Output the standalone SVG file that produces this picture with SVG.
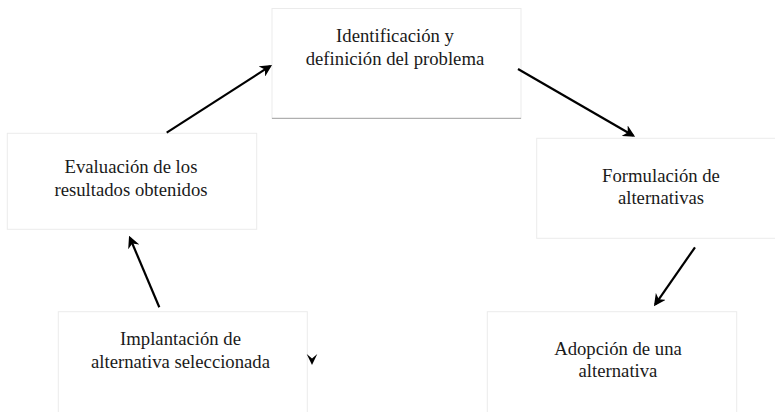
<svg xmlns="http://www.w3.org/2000/svg" width="775" height="412" viewBox="0 0 775 412">
<style>
.box{fill:#ffffff;stroke:#ebebeb;stroke-width:1}
.lbl{font-family:"Liberation Serif","Times New Roman",serif;font-size:18.7px;fill:#1a1a1a;text-anchor:middle}
.edge{stroke:#000;stroke-width:2.2;fill:none;marker-end:url(#ah)}
</style>
<defs>
<marker id="ah" viewBox="0 0 10 10" refX="8" refY="5" markerWidth="5.5" markerHeight="5.5" markerUnits="strokeWidth" orient="auto">
<path d="M0,0 L10,5 L0,10 L3,5 Z" fill="#000"/>
</marker>
</defs>
<rect width="775" height="412" fill="#ffffff"/>
<g id="node-identificacion">
<rect class="box" x="272" y="8.5" width="249" height="110"/>
<line x1="272" y1="118.3" x2="521" y2="118.3" stroke="#a0a0a0" stroke-width="1"/>
<text class="lbl" x="395" y="41.7">Identificación y</text>
<text class="lbl" x="395" y="65">definición del problema</text>
</g>
<g id="node-formulacion">
<rect class="box" x="536.7" y="138.3" width="245" height="100"/>
<text class="lbl" x="661" y="181.7">Formulación de</text>
<text class="lbl" x="661" y="204">alternativas</text>
</g>
<g id="node-adopcion">
<rect class="box" x="487.3" y="311.7" width="249.4" height="110"/>
<text class="lbl" x="618" y="355">Adopción de una</text>
<text class="lbl" x="618" y="377.3">alternativa</text>
</g>
<g id="node-implantacion">
<rect class="box" x="58.3" y="311.7" width="249" height="110"/>
<text class="lbl" x="180.5" y="345">Implantación de</text>
<text class="lbl" x="180.5" y="368.3">alternativa seleccionada</text>
</g>
<g id="node-evaluacion">
<rect class="box" x="7.3" y="133.3" width="249.4" height="96"/>
<text class="lbl" x="131" y="173.3">Evaluación de los</text>
<text class="lbl" x="131" y="195.5">resultados obtenidos</text>
</g>
<g id="connectors">
<line class="edge" x1="166.7" y1="132.7" x2="270" y2="66.2"/>
<line class="edge" x1="518" y1="69" x2="633" y2="135.5"/>
<line class="edge" x1="695" y1="247.3" x2="655.3" y2="304.3"/>
<line class="edge" x1="159.3" y1="307.3" x2="130" y2="238"/>
<path d="M306.7,354 L312,358.5 L317.3,354 L312,365 Z" fill="#000"/>
</g>
</svg>
